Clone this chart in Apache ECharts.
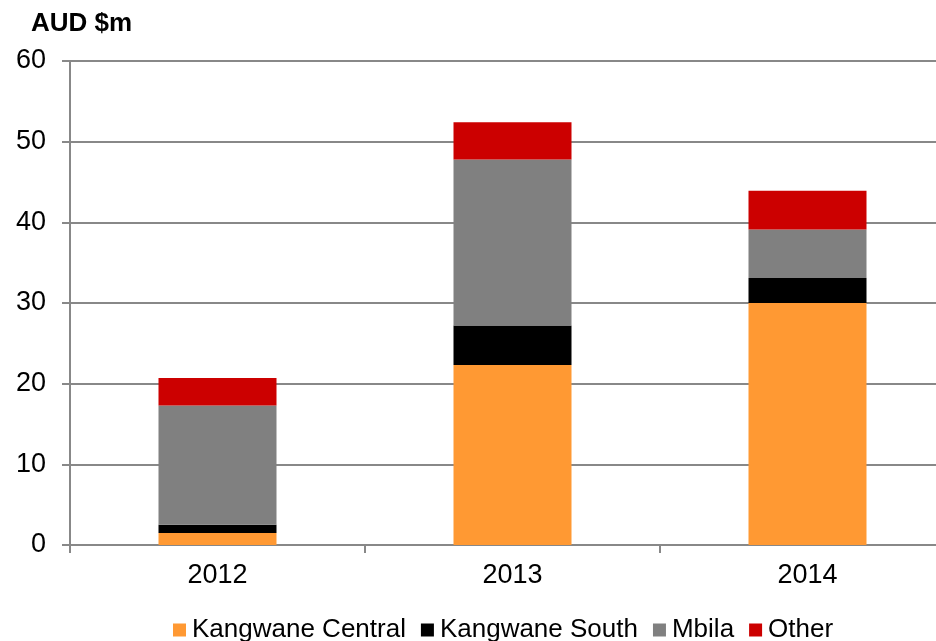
<!DOCTYPE html>
<html>
<head>
<meta charset="utf-8">
<script src="https://cdn.jsdelivr.net/npm/echarts@6/dist/echarts.min.js"></script>
<style>html,body{margin:0;padding:0;background:#fff;}#c{width:936px;height:641px;}</style>
</head>
<body>
<div id="c"></div>
<script>
var categories = ['2012', '2013', '2014'];
var kangwaneCentral = [1.5, 22.3, 30.0];
var kangwaneSouth = [1.0, 4.9, 3.1];
var mbila = [14.8, 20.6, 6.0];
var other = [3.4, 4.6, 4.8];
var yTicks = [0, 10, 20, 30, 40, 50, 60];

var chart = echarts.init(document.getElementById('c'), null, {renderer: 'canvas'});
var font = 'Liberation Sans, Arial, sans-serif';
function s(name, data, color) {
  return {name: name, type: 'bar', stack: 'a', data: data, barWidth: '40%',
    itemStyle: {color: color}, emphasis: {disabled: true}};
}
chart.setOption({
  animation: false,
  textStyle: {fontFamily: font},
  graphic: [{type: 'text', left: 31, top: 11, style: {text: 'AUD $m', fontSize: 26, fontWeight: 'bold', fontFamily: font, fill: '#000'}}],
  grid: {left: 70, right: -19, top: 61, height: 484, containLabel: false, outerBoundsMode: 'none'},
  legend: {top: 612, left: 168, itemWidth: 13, itemHeight: 13, itemGap: 15,
    icon: 'rect', textStyle: {fontSize: 26, color: '#000', fontFamily: font, padding: [0, 0, 0, 1]},
    data: ['Kangwane Central', 'Kangwane South', 'Mbila', 'Other']},
  xAxis: {type: 'category', data: categories,
    axisLine: {lineStyle: {color: '#888', width: 2}},
    axisTick: {show: true, length: 8, lineStyle: {color: '#888', width: 2}},
    axisLabel: {fontSize: 27, color: '#000', margin: 17, fontFamily: font}},
  yAxis: {type: 'value', min: yTicks[0], max: yTicks[yTicks.length - 1], interval: 10,
    axisLine: {show: true, lineStyle: {color: '#888', width: 2}},
    axisTick: {show: true, length: 8, lineStyle: {color: '#888', width: 2}},
    splitLine: {lineStyle: {color: '#888', width: 2}},
    axisLabel: {fontSize: 27, color: '#000', margin: 24, fontFamily: font}},
  series: [
    s('Kangwane Central', kangwaneCentral, '#ff9933'),
    s('Kangwane South', kangwaneSouth, '#000000'),
    s('Mbila', mbila, '#808080'),
    s('Other', other, '#cc0000')
  ]
});
</script>
</body>
</html>
